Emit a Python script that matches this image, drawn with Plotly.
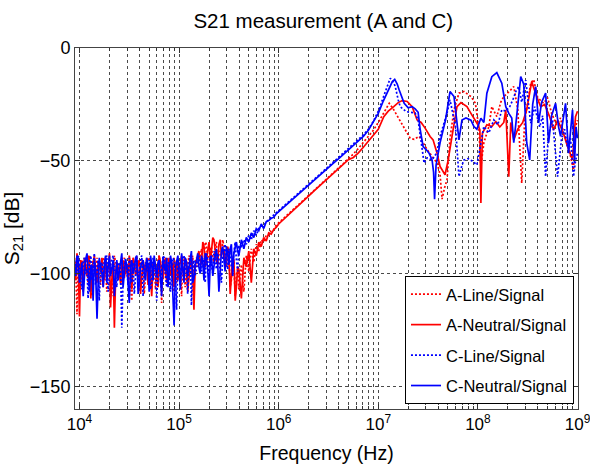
import plotly.graph_objects as go

# ---------------- data ----------------
# shared sweep grid for the low / slope part (kHz)
freq_khz = [8.91, 9.44, 10.0, 10.6, 11.2, 11.9, 12.6, 13.3, 14.1, 15.0,
            15.8, 16.8, 17.8, 18.8, 20.0, 21.1, 22.4, 23.7, 25.1, 26.6,
            28.2, 29.9, 31.6, 33.5, 35.5, 37.6, 39.8, 42.2, 44.7, 47.3,
            50.1, 53.1, 56.2, 59.6, 63.1, 66.8, 70.8, 75.0, 79.4, 84.1,
            89.1, 94.4, 100, 106, 112, 119, 126, 133, 141, 150,
            158, 168, 178, 188, 200, 211, 224, 237, 251, 266,
            282, 299, 316, 335, 355, 376, 398,
            422, 447, 473, 501, 531, 562, 596, 631, 668, 708, 750, 794, 841, 891, 944, 1000,
            1122, 1259, 1413, 1585, 1778, 1995, 2239, 2512, 2818, 3162, 3548, 3981, 4467,
            5012, 5623, 6310, 7079, 7943, 8913, 10000]

a_line_low = [-93, -118, -98, -94, -101, -96, -92, -110, -97, -93,
              -99, -95, -103, -108, -94, -97, -92, -100, -96, -104,
              -93, -98, -95, -112, -96, -92, -99, -94, -109, -97,
              -93, -101, -95, -98, -92, -113, -96, -94, -100, -97,
              -93, -104, -96, -110, -94, -99, -92, -96, -101, -93,
              -95, -89, -97, -87, -92, -88, -95, -86, -90, -93,
              -88, -97, -92, -103, -95, -100, -107,
              -96, -108, -92, -99, -89, -95, -87, -90, -85, -86, -83, -83, -81, -80.5, -78.5, -77.5,
              -75.5, -73.5, -71.5, -69.3, -67.3, -65.2, -63.2, -61.2, -59.2, -57.2, -55.2, -53.2,
              -51.2, -49, -47, -44.5, -42, -39.5, -36.5, -33]
a_neutral_low = [-96, -91, -119, -97, -93, -101, -95, -99, -92, -104,
                 -96, -93, -100, -97, -91, -103, -124, -95, -99, -93,
                 -102, -96, -92, -107, -95, -99, -94, -101, -97, -93,
                 -96, -110, -94, -100, -92, -98, -95, -104, -93, -99,
                 -106, -94, -97, -92, -101, -95, -99, -93, -116, -94,
                 -90, -96, -88, -93, -86, -91, -85, -94, -87, -92,
                 -89, -95, -91, -100, -94, -106, -98,
                 -111, -93, -97, -90, -104, -89, -92, -86, -88, -84, -85.5, -82, -82.5, -80.5, -79.5, -78,
                 -76, -74, -72, -69.8, -67.7, -65.6, -63.5, -61.5, -59.5, -57.5, -55.5, -53.4,
                 -51.5, -49.5, -48.5, -46.5, -44, -41.5, -38.8, -36]
c_line_low = [-94, -100, -96, -107, -93, -98, -95, -103, -91, -99,
              -112, -95, -97, -92, -101, -94, -98, -106, -95, -124,
              -96, -99, -93, -104, -109, -94, -98, -92, -101, -96,
              -94, -104, -97, -112, -95, -99, -93, -106, -96, -101,
              -94, -116, -95, -98, -92, -100, -95, -114, -94, -97,
              -92, -99, -95, -91, -102, -96, -90, -98, -93, -104,
              -91, -95, -89, -97, -90, -94, -88,
              -88, -85, -87, -83, -85, -81, -83, -80, -79, -78.5, -77, -76, -75, -74, -73, -72,
              -70, -68.2, -66.2, -64.3, -62.3, -60.4, -58.4, -56.5, -54.5, -52.6, -50.6, -48.7,
              -46.7, -44.8, -42.8, -40.7, -38.5, -36, -32.5, -28]
c_neutral_low = [-97, -92, -104, -95, -99, -91, -108, -96, -94, -120,
                 -93, -100, -95, -104, -92, -98, -110, -94, -99, -91,
                 -101, -96, -113, -94, -98, -92, -105, -95, -100, -93,
                 -108, -96, -92, -101, -94, -110, -97, -93, -100, -95,
                 -123, -94, -99, -91, -104, -95, -97, -90, -102, -94,
                 -97, -92, -103, -93, -110, -92, -96, -89, -108, -90,
                 -93, -88, -96, -87, -91, -86, -92,
                 -85, -89, -84, -86, -82, -84, -80, -81, -78, -80, -77, -76.5, -75.5, -75, -73.5, -72.5,
                 -70.5, -68.6, -66.6, -64.7, -62.7, -60.8, -58.8, -56.9, -54.9, -53, -51, -49.1,
                 -47.1, -45.2, -43.2, -41.2, -39.2, -36.5, -33, -29]

# in-between sweep points of the noisy low-frequency band (kHz)
freq_mid_khz = [9.17, 9.72, 10.3, 10.9, 11.5, 12.2, 13.0, 13.7, 14.5, 15.4,
                16.3, 17.3, 18.3, 19.4, 20.5, 21.8, 23.1, 24.4, 25.9, 27.4,
                29.0, 30.8, 32.6, 34.5, 36.6, 38.8, 41.0, 43.5, 46.1, 48.8,
                51.7, 54.8, 58.0, 61.5, 65.1, 69.0, 73.1, 77.4, 82.0, 86.9,
                92.1, 97.2, 103, 109, 115, 122, 130, 137, 145, 154,
                163, 173, 183, 194, 206, 218, 231, 244, 259, 274,
                290, 308, 326, 345, 366, 388]
a_line_mid = [-97, -95, -104, -99, -93, -105, -98, -94, -101, -96,
              -105, -93, -97, -100, -96, -110, -95, -98, -103, -94,
              -100, -96, -106, -94, -98, -103, -97, -95, -100, -93,
              -98, -95, -107, -94, -99, -97, -102, -93, -96, -108,
              -99, -95, -98, -94, -106, -96, -102, -92, -95, -97,
              -92, -96, -86, -94, -90, -93, -88, -97, -91, -85,
              -95, -89, -106, -93, -110, -98]
a_neutral_mid = [-103, -97, -94, -108, -96, -92, -111, -95, -98, -95,
                 -99, -106, -93, -98, -115, -96, -100, -97, -105, -95,
                 -98, -104, -96, -93, -101, -95, -109, -94, -99, -105,
                 -101, -96, -97, -106, -95, -102, -93, -97, -101, -95,
                 -98, -103, -95, -99, -93, -108, -95, -101, -97, -91,
                 -94, -86, -97, -89, -95, -84, -90, -96, -85, -90,
                 -97, -88, -109, -93, -112, -97]
c_line_mid = [-98, -92, -103, -95, -100, -111, -92, -97, -105, -94,
              -98, -103, -94, -108, -96, -92, -101, -96, -99, -102,
              -93, -105, -97, -95, -98, -103, -94, -110, -95, -99,
              -107, -93, -99, -96, -104, -92, -100, -95, -108, -93,
              -99, -96, -104, -93, -97, -109, -92, -98, -101, -93,
              -97, -93, -104, -94, -92, -100, -94, -91, -99, -93,
              -87, -98, -92, -95, -86, -99]
c_neutral_mid = [-101, -95, -98, -110, -94, -100, -97, -112, -98, -104,
                 -97, -106, -92, -97, -101, -94, -98, -103, -93, -106,
                 -94, -104, -97, -100, -93, -109, -97, -94, -103, -96,
                 -92, -103, -98, -95, -102, -93, -99, -106, -92, -111,
                 -97, -92, -107, -96, -93, -101, -94, -104, -96, -91,
                 -100, -95, -91, -98, -93, -101, -92, -95, -96, -88,
                 -99, -91, -89, -101, -88, -90]

# high-frequency part: log10(frequency / Hz) and dB for each trace
a_line_hf_log = [7.04, 7.08, 7.11, 7.15, 7.19, 7.22, 7.27, 7.32, 7.36, 7.41, 7.45, 7.49, 7.54,
                 7.59, 7.62, 7.64, 7.665, 7.69, 7.72, 7.76, 7.81, 7.86, 7.93, 7.975, 8.01, 8.03,
                 8.06, 8.11, 8.14, 8.19, 8.23, 8.26, 8.31, 8.36, 8.40, 8.44, 8.47, 8.53, 8.56,
                 8.60, 8.66, 8.70, 8.74, 8.79, 8.83, 8.86, 8.90, 8.96, 8.98, 9.0]
a_line_hf_db = [-30, -26.5, -24.5, -27, -30, -31.9, -36, -40, -40.5, -39.2, -42, -45, -48,
                -51, -56, -67, -62, -58.4, -40, -27.4, -20, -19.3, -21.5, -24.5, -35.5, -52.5,
                -42, -34.8, -26, -30.4, -24, -21.5, -19.5, -17.1, -27, -59.9, -32, -15.6, -14,
                -22, -24.5, -22, -29, -34, -31, -37.8, -42, -54, -35, -32]
a_neutral_hf_log = [7.055, 7.10, 7.155, 7.20, 7.24, 7.29, 7.34, 7.39, 7.43, 7.47, 7.52, 7.55,
                    7.59, 7.62, 7.67, 7.70, 7.74, 7.79, 7.83, 7.89, 7.93, 7.96, 8.0, 8.02, 8.03,
                    8.045, 8.09, 8.14, 8.18, 8.22, 8.26, 8.28, 8.31, 8.33, 8.36, 8.40, 8.45,
                    8.49, 8.54, 8.59, 8.63, 8.67, 8.72, 8.76, 8.80, 8.83, 8.86, 8.90, 8.95,
                    8.98, 9.0]
a_neutral_hf_db = [-30.4, -28, -26, -24.2, -23.3, -23.7, -26, -31.9, -33, -35.5, -39.2, -40.7,
                   -46.6, -52.5, -56.2, -50, -39.2, -26, -24.2, -26, -29, -31, -34, -36.3, -68.7,
                   -37.8, -34, -34.8, -32.6, -35, -33, -27.4, -57, -33, -40.7, -36, -33,
                   -27.4, -14.9, -21.5, -26, -25, -30.4, -36.3, -32, -34.8, -38, -43.7, -49.6,
                   -30.4, -28]
c_line_hf_log = [7.05, 7.08, 7.12, 7.15, 7.17, 7.20, 7.22, 7.28, 7.33, 7.37, 7.40, 7.42, 7.46,
                 7.49, 7.54, 7.585, 7.62, 7.69, 7.72, 7.775, 7.81, 7.84, 7.86, 7.90, 7.94, 7.99,
                 8.03, 8.06, 8.11, 8.16, 8.20, 8.24, 8.28, 8.32, 8.36, 8.38, 8.41, 8.44, 8.48,
                 8.53, 8.57, 8.62, 8.65, 8.68, 8.71, 8.75, 8.80, 8.84, 8.87, 8.90, 8.93, 8.96,
                 8.98, 9.0]
c_line_hf_db = [-21.5, -18, -13.4, -15, -17, -23, -26, -28.2, -28.5, -28.8, -32, -39.2, -51,
                -48.7, -49.6, -46.6, -39.2, -28.9, -23, -34.8, -57, -52, -49.6, -49, -50, -51.8,
                -42, -34.8, -37.6, -31.9, -34, -27.4, -28, -26, -22, -19.3, -17.1, -24, -14.2,
                -33.3, -26, -35, -30, -57, -38, -32, -57, -40, -36, -44, -40, -57,
                -50, -46.6]
c_neutral_hf_log = [7.05, 7.10, 7.14, 7.165, 7.19, 7.21, 7.26, 7.30, 7.34, 7.37, 7.40, 7.42,
                    7.45, 7.48, 7.51, 7.54, 7.555, 7.565, 7.58, 7.62, 7.675, 7.72, 7.76, 7.81,
                    7.84, 7.88, 7.93, 7.96, 7.99, 8.03, 8.06, 8.09, 8.14, 8.19, 8.24, 8.28, 8.31,
                    8.34, 8.36, 8.39, 8.43, 8.46, 8.49, 8.52, 8.55, 8.58, 8.61, 8.64, 8.68, 8.71,
                    8.74, 8.78, 8.81, 8.83, 8.86, 8.88, 8.91, 8.93, 8.95, 8.97, 8.985, 9.0]
c_neutral_hf_db = [-23.5, -18.5, -15, -13.9, -16, -18.6, -24.5, -26.5, -26, -27, -28.5, -36,
                   -43.7, -45, -46.6, -49.6, -55, -67, -52, -42, -31.9, -19.3, -21.5, -40.7,
                   -31.9, -31, -32, -34.8, -36, -31.1, -33, -20, -12.7, -10.9, -15.6, -26, -29,
                   -31, -42, -30, -12.7, -16, -42, -49.6, -25, -17.1, -33, -24, -20, -42,
                   -30, -24.5, -35, -39.2, -30, -24.5, -46.6, -38, -27.4, -51, -35, -40]

series_names = ["A-Line/Signal", "A-Neutral/Signal", "C-Line/Signal", "C-Neutral/Signal"]
x_tick_vals = [1e4, 1e5, 1e6, 1e7, 1e8, 1e9]
x_tick_text = ["10<sup>4</sup>", "10<sup>5</sup>", "10<sup>6</sup>",
               "10<sup>7</sup>", "10<sup>8</sup>", "10<sup>9</sup>"]
y_tick_vals = [0, -50, -100, -150]

# ---------------- figure ----------------
lows = [a_line_low, a_neutral_low, c_line_low, c_neutral_low]
mids = [a_line_mid, a_neutral_mid, c_line_mid, c_neutral_mid]
for s in lows:
    assert len(s) == len(freq_khz), len(s)
for s in mids:
    assert len(s) == len(freq_mid_khz), len(s)
hf = [(a_line_hf_log, a_line_hf_db), (a_neutral_hf_log, a_neutral_hf_db),
      (c_line_hf_log, c_line_hf_db), (c_neutral_hf_log, c_neutral_hf_db)]
for lx, ly in hf:
    assert len(lx) == len(ly), (len(lx), len(ly))

colors = ["#ff0000", "#ff0000", "#0000ff", "#0000ff"]
dashes = ["2px,2px", "solid", "2px,2px", "solid"]

FONT = "Liberation Sans, Arial"

fig = go.Figure()
for name, low, mid, (lx, ly), c, d in zip(series_names, lows, mids, hf, colors, dashes):
    pts = [(f * 1e3, v) for f, v in zip(freq_khz, low)]
    pts += [(f * 1e3, v) for f, v in zip(freq_mid_khz, mid)]
    pts += [(10 ** f, v) for f, v in zip(lx, ly)]
    pts.sort(key=lambda p: p[0])
    fig.add_trace(go.Scatter(x=[p[0] for p in pts], y=[p[1] for p in pts],
                             mode="lines", name=name, legendgroup=name,
                             line=dict(color=c, width=1.7, dash=d)))

GRID = "#4a4a4a"
fig.update_layout(
    width=590, height=474,
    margin=dict(l=75, r=12, t=48, b=65, autoexpand=False),
    paper_bgcolor="white", plot_bgcolor="white",
    font=dict(family=FONT, color="black"),
    title=dict(text="S21 measurement (A and C)", x=0.548, xanchor="center",
               y=0.957, yanchor="middle", font=dict(size=20.5, family=FONT)),
    xaxis=dict(type="log", range=[3.955, 9.005], automargin=False,
               tickmode="array", tickvals=x_tick_vals, ticktext=x_tick_text,
               tickfont=dict(size=17), ticks="inside", ticklen=5, tickcolor="#333",
               ticklabeloverflow="allow",
               showgrid=True, gridcolor=GRID, griddash="3px,3px", gridwidth=1,
               minor=dict(dtick="D1", showgrid=True, gridcolor=GRID,
                          griddash="3px,3px", ticks="inside", ticklen=3, tickcolor="#333"),
               showline=True, mirror="allticks", linecolor="#444", linewidth=1,
               zeroline=False,
               title=dict(text="Frequency (Hz)", font=dict(size=19.5), standoff=12)),
    yaxis=dict(range=[-160, 0], automargin=False, tickmode="array", tickvals=y_tick_vals,
               tickfont=dict(size=18), ticks="inside", ticklen=5, tickcolor="#333",
               showgrid=True, gridcolor=GRID, griddash="3px,3px", gridwidth=1,
               showline=True, mirror="allticks", linecolor="#444", linewidth=1,
               zeroline=False,
               title=dict(text="S<sub>21</sub> [dB]", font=dict(size=21), standoff=6)),
    legend=dict(x=0.992, y=0.014, xanchor="right", yanchor="bottom",
                bgcolor="white", bordercolor="black", borderwidth=1,
                font=dict(size=16.5, family=FONT), tracegroupgap=6,
                itemwidth=30),
    showlegend=True,
)

fig.write_html("out.html")
